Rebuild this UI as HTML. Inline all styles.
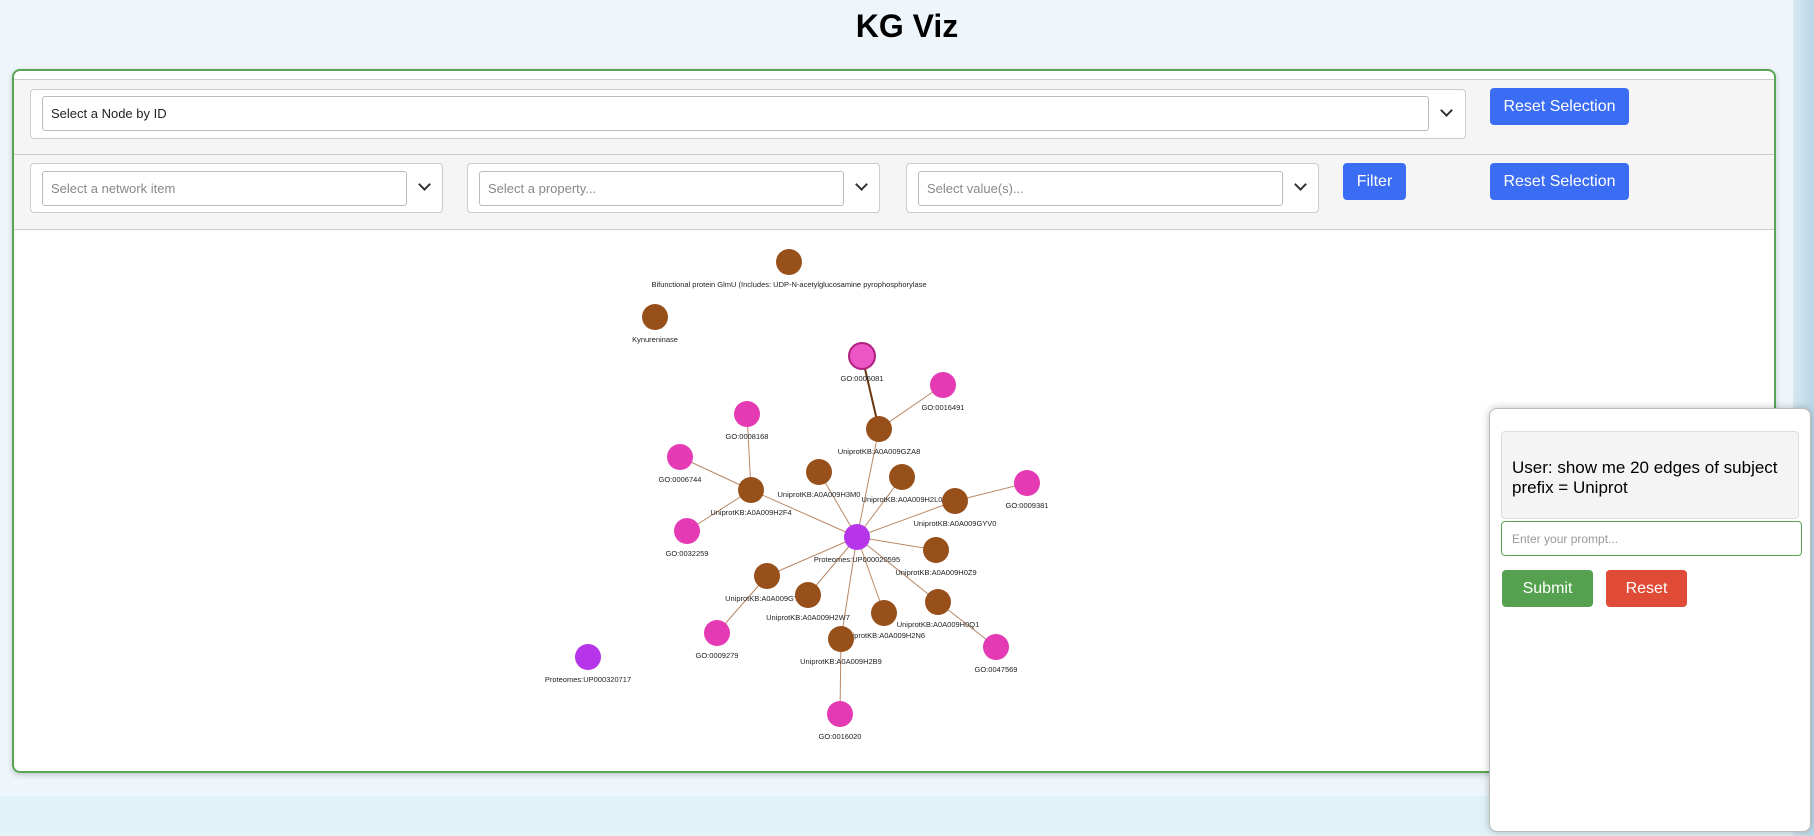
<!DOCTYPE html>
<html><head><meta charset="utf-8"><style>
*{box-sizing:border-box}
body{margin:0;width:1814px;height:836px;overflow:hidden;background:#eef6fc;font-family:"Liberation Sans",sans-serif;position:relative}
.abs{position:absolute}
h1{position:absolute;left:0;width:1814px;top:8px;margin:0;text-align:center;font-size:32px;font-weight:bold}
.panel{left:12px;top:69px;width:1764px;height:704px;border:2px solid #5aa555;border-radius:8px;background:#fff;box-shadow:0 2px 6px rgba(0,0,0,.2);overflow:hidden}
.row{left:0;width:1760px;background:#f5f5f5;border-bottom:1px solid #ccc}
.sel{background:#fff;border:1px solid #ccc;border-radius:4px}
.inner{border:1px solid #bbb;border-radius:3px;background:#fff;font-size:13px;color:#888;padding-left:8px;display:flex;align-items:center}
.btn{background:#3a6cf4;color:#fff;border-radius:4px;font-size:16px;display:flex;align-items:center;justify-content:center}
.chev{width:9px;height:9px;border-right:2px solid #333;border-bottom:2px solid #333;transform:rotate(45deg)}
</style></head><body>
<h1>KG Viz</h1>
<div class="abs" style="left:0;top:796px;width:1814px;height:40px;background:#e0f3f8"></div>
<div class="abs" style="left:1793px;top:0;width:21px;height:836px;background:linear-gradient(90deg,#d6e8f2,#b9d7e6)"></div>
<div class="abs panel">
 <div class="abs row" style="top:8px;height:76px;border-top:1px solid #ccc">
  <div class="abs sel" style="left:16px;top:9px;width:1436px;height:50px">
   <div class="abs inner" style="left:11px;top:6px;width:1387px;height:35px;color:#222">Select a Node by ID</div>
   <div class="abs chev" style="left:1411px;top:16px"></div>
  </div>
  <div class="abs btn" style="left:1476px;top:8px;width:139px;height:37px">Reset Selection</div>
 </div>
 <div class="abs row" style="top:84px;height:75px">
  <div class="abs sel" style="left:16px;top:8px;width:413px;height:50px">
   <div class="abs inner" style="left:11px;top:7px;width:365px;height:35px">Select a network item</div>
   <div class="abs chev" style="left:389px;top:16px"></div></div>
  <div class="abs sel" style="left:453px;top:8px;width:413px;height:50px">
   <div class="abs inner" style="left:11px;top:7px;width:365px;height:35px">Select a property...</div>
   <div class="abs chev" style="left:389px;top:16px"></div></div>
  <div class="abs sel" style="left:892px;top:8px;width:413px;height:50px">
   <div class="abs inner" style="left:11px;top:7px;width:365px;height:35px">Select value(s)...</div>
   <div class="abs chev" style="left:389px;top:16px"></div></div>
  <div class="abs btn" style="left:1329px;top:8px;width:63px;height:37px">Filter</div>
  <div class="abs btn" style="left:1476px;top:8px;width:139px;height:37px">Reset Selection</div>
 </div>
</div>
<svg class="abs" style="left:0;top:0" width="1814" height="836" id="g"></svg>
<div class="abs" style="left:1489px;top:408px;width:322px;height:424px;background:#fff;border:1px solid #bbb;border-radius:8px;box-shadow:0 0 8px rgba(0,0,0,.25)">
 <div class="abs" style="left:11px;top:22px;width:298px;height:88px;background:#f4f4f4;border:1px solid #ddd;border-radius:4px;font-size:17px;padding:26px 10px;line-height:20px">User: show me 20 edges of subject prefix = Uniprot</div>
 <div class="abs" style="left:11px;top:112px;width:301px;height:35px;border:1px solid #5aa555;border-radius:4px;font-size:12px;color:#999;padding:10px 10px">Enter your prompt...</div>
 <div class="abs btn" style="left:12px;top:161px;width:91px;height:37px;background:#55a14f">Submit</div>
 <div class="abs btn" style="left:116px;top:161px;width:81px;height:37px;background:#e04b37">Reset</div>
</div>
<script>
const nodeIds=["glmu","kyn","go6081","go16491","gza8","go8168","go6744","h2f4","h3m0","h2l0","gyv0","go9381","go32259","p595","h0z9","gyq4","h2w7","h2n6","h0q1","h2b9","go9279","go47569","go16020","p717"];
const nodeLabels=["Bifunctional protein GlmU (Includes: UDP-N-acetylglucosamine pyrophosphorylase","Kynureninase","GO:0006081","GO:0016491","UniprotKB:A0A009GZA8","GO:0008168","GO:0006744","UniprotKB:A0A009H2F4","UniprotKB:A0A009H3M0","UniprotKB:A0A009H2L0","UniprotKB:A0A009GYV0","GO:0009381","GO:0032259","Proteomes:UP000020595","UniprotKB:A0A009H0Z9","UniprotKB:A0A009GYQ4","UniprotKB:A0A009H2W7","UniprotKB:A0A009H2N6","UniprotKB:A0A009H0Q1","UniprotKB:A0A009H2B9","GO:0009279","GO:0047569","GO:0016020","Proteomes:UP000320717"];
const nodeTypes=["p","p","g","g","p","g","g","p","p","p","p","g","g","x","p","p","p","p","p","p","g","g","g","x"];
const nodeX=[789,655,862,943,879,747,680,751,819,902,955,1027,687,857,936,767,808,884,938,841,717,996,840,588];
const nodeY=[262,317,356,385,429,414,457,490,472,477,501,483,531,537,550,576,595,613,602,639,633,647,714,657];
const edgeFrom=["p595","p595","p595","p595","p595","p595","p595","p595","p595","p595","p595","h2f4","h2f4","h2f4","gza8","gza8","gyv0","gyq4","h0q1","h2b9"];
const edgeTo=["h2f4","h3m0","gza8","h2l0","gyv0","h0z9","h0q1","h2n6","h2b9","h2w7","gyq4","go8168","go6744","go32259","go6081","go16491","go9381","go9279","go47569","go16020"];
const colors={p:"#98501b",g:"#e43bb4",x:"#b634ea"};
const NS="http://www.w3.org/2000/svg",svg=document.getElementById("g");
const idx=id=>nodeIds.indexOf(id);
edgeFrom.forEach((f,i)=>{const a=idx(f),b=idx(edgeTo[i]);const l=document.createElementNS(NS,"line");
l.setAttribute("x1",nodeX[a]);l.setAttribute("y1",nodeY[a]);l.setAttribute("x2",nodeX[b]);l.setAttribute("y2",nodeY[b]);
const dark=edgeTo[i]==="go6081";l.setAttribute("stroke",dark?"#6b3510":"#b98866");l.setAttribute("stroke-width",dark?2:1);


svg.appendChild(l);});
nodeIds.forEach((id,i)=>{const c=document.createElementNS(NS,"circle");
c.setAttribute("cx",nodeX[i]);c.setAttribute("cy",nodeY[i]);c.setAttribute("r",13);c.setAttribute("fill",colors[nodeTypes[i]]);
if(id==="go6081"){c.setAttribute("stroke","#b0207f");c.setAttribute("stroke-width",2);c.setAttribute("fill","#ec55c4");}


svg.appendChild(c);
const t=document.createElementNS(NS,"text");t.setAttribute("x",nodeX[i]);t.setAttribute("y",nodeY[i]+25);
t.setAttribute("text-anchor","middle");t.setAttribute("font-size","7.5");t.setAttribute("fill","#222");t.setAttribute("font-family","Liberation Sans, sans-serif");
t.textContent=nodeLabels[i];


svg.appendChild(t);});
</script>
</body></html>
